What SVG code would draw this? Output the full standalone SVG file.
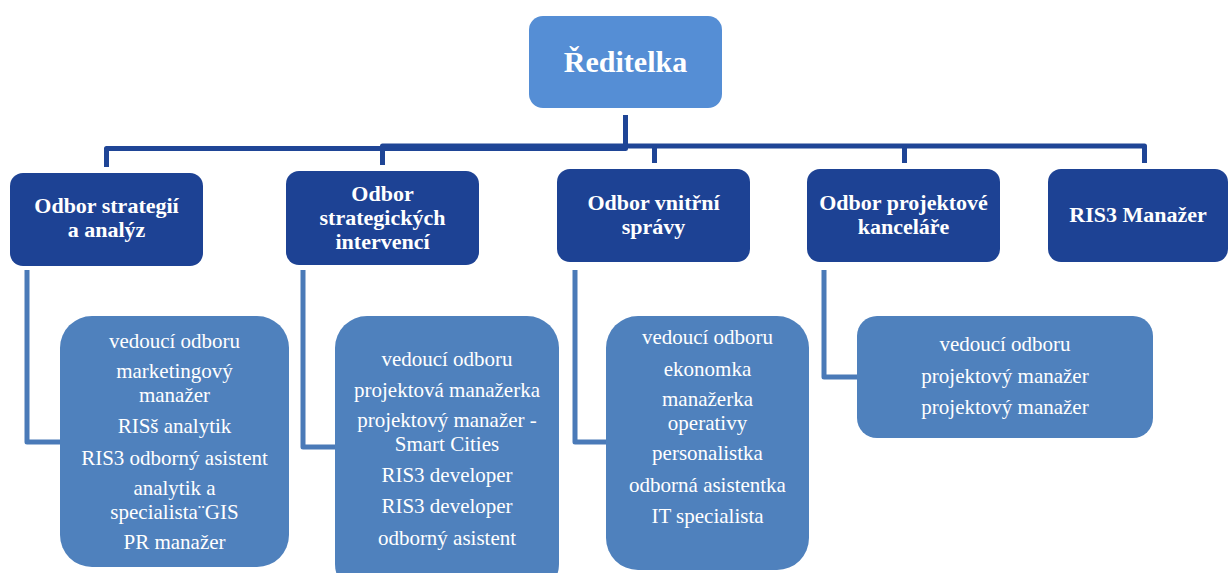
<svg xmlns="http://www.w3.org/2000/svg" width="1231" height="573" viewBox="0 0 1231 573">
<style>
.top{fill:#558ED5}
.dept{fill:#1D4294}
.sub{fill:#4F81BD}
.tt{font-family:"Liberation Serif","Times New Roman",serif;fill:#fff;text-anchor:middle}
.t1{font-size:30px;font-weight:bold}
.t2{font-size:22px;font-weight:bold}
.t3{font-size:21px}
.c1{fill:none;stroke:#1F4596;stroke-width:5;stroke-linejoin:round}
.c2{fill:none;stroke:#4A7AB8;stroke-width:5;stroke-linejoin:round}
</style>
<rect width="1231" height="573" fill="#fff"/>
<g id="connectors">
<path class="c1" d="M625.5 115 V148.5 H106.5 V167"/>
<path class="c1" d="M382.5 165 V146 H1144.5 V163"/>
<path class="c1" d="M654.5 146 V163"/>
<path class="c1" d="M904.5 146 V163"/>
<path class="c2" d="M27 270 V442 H60"/>
<path class="c2" d="M303 270 V447 H335"/>
<path class="c2" d="M575 270 V442 H606"/>
<path class="c2" d="M824 270 V377 H857"/>
</g>
<g id="reditelka">
<rect class="top" x="529" y="16" width="193" height="92" rx="14"/>
<text class="tt t1" x="625.5" y="72">Ředitelka</text>
</g>
<g id="odbor-strategii">
<rect class="dept" x="10" y="173" width="193" height="93" rx="13"/>
<text class="tt t2" x="106.5" y="213">Odbor strategií</text>
<text class="tt t2" x="106.5" y="237">a analýz</text>
</g>
<g id="odbor-intervenci">
<rect class="dept" x="286" y="171" width="193" height="94" rx="13"/>
<text class="tt t2" x="382.5" y="201">Odbor</text>
<text class="tt t2" x="382.5" y="225">strategických</text>
<text class="tt t2" x="382.5" y="249">intervencí</text>
</g>
<g id="odbor-vnitrni">
<rect class="dept" x="557" y="169" width="193" height="93" rx="13"/>
<text class="tt t2" x="653.5" y="210">Odbor vnitřní</text>
<text class="tt t2" x="653.5" y="234">správy</text>
</g>
<g id="odbor-projektove">
<rect class="dept" x="807" y="169" width="193" height="93" rx="13"/>
<text class="tt t2" x="903.5" y="210">Odbor projektové</text>
<text class="tt t2" x="903.5" y="234">kanceláře</text>
</g>
<g id="ris3-manazer">
<rect class="dept" x="1048" y="169" width="180" height="93" rx="13"/>
<text class="tt t2" x="1138" y="222">RIS3 Manažer</text>
</g>
<g id="tym-strategii">
<rect class="sub" x="60" y="316" width="229" height="251" rx="32"/>
<text class="tt t3" x="174.5" y="348">vedoucí odboru</text>
<text class="tt t3" x="174.5" y="378">marketingový</text>
<text class="tt t3" x="174.5" y="402">manažer</text>
<text class="tt t3" x="174.5" y="433">RISš analytik</text>
<text class="tt t3" x="174.5" y="465">RIS3 odborný asistent</text>
<text class="tt t3" x="174.5" y="495">analytik a</text>
<text class="tt t3" x="174.5" y="519">specialista¨GIS</text>
<text class="tt t3" x="174.5" y="549">PR manažer</text>
</g>
<g id="tym-intervenci">
<rect class="sub" x="335" y="316" width="224" height="280" rx="32"/>
<text class="tt t3" x="447" y="366">vedoucí odboru</text>
<text class="tt t3" x="447" y="397">projektová manažerka</text>
<text class="tt t3" x="447" y="427">projektový manažer -</text>
<text class="tt t3" x="447" y="451">Smart Cities</text>
<text class="tt t3" x="447" y="482">RIS3 developer</text>
<text class="tt t3" x="447" y="513">RIS3 developer</text>
<text class="tt t3" x="447" y="545">odborný asistent</text>
</g>
<g id="tym-vnitrni">
<rect class="sub" x="606" y="316" width="203" height="254" rx="32"/>
<text class="tt t3" x="707.5" y="344">vedoucí odboru</text>
<text class="tt t3" x="707.5" y="376">ekonomka</text>
<text class="tt t3" x="707.5" y="406">manažerka</text>
<text class="tt t3" x="707.5" y="430">operativy</text>
<text class="tt t3" x="707.5" y="460">personalistka</text>
<text class="tt t3" x="707.5" y="492">odborná asistentka</text>
<text class="tt t3" x="707.5" y="523">IT specialista</text>
</g>
<g id="tym-projektove">
<rect class="sub" x="857" y="316" width="296" height="122" rx="20"/>
<text class="tt t3" x="1005" y="351">vedoucí odboru</text>
<text class="tt t3" x="1005" y="383">projektový manažer</text>
<text class="tt t3" x="1005" y="414">projektový manažer</text>
</g>
</svg>
